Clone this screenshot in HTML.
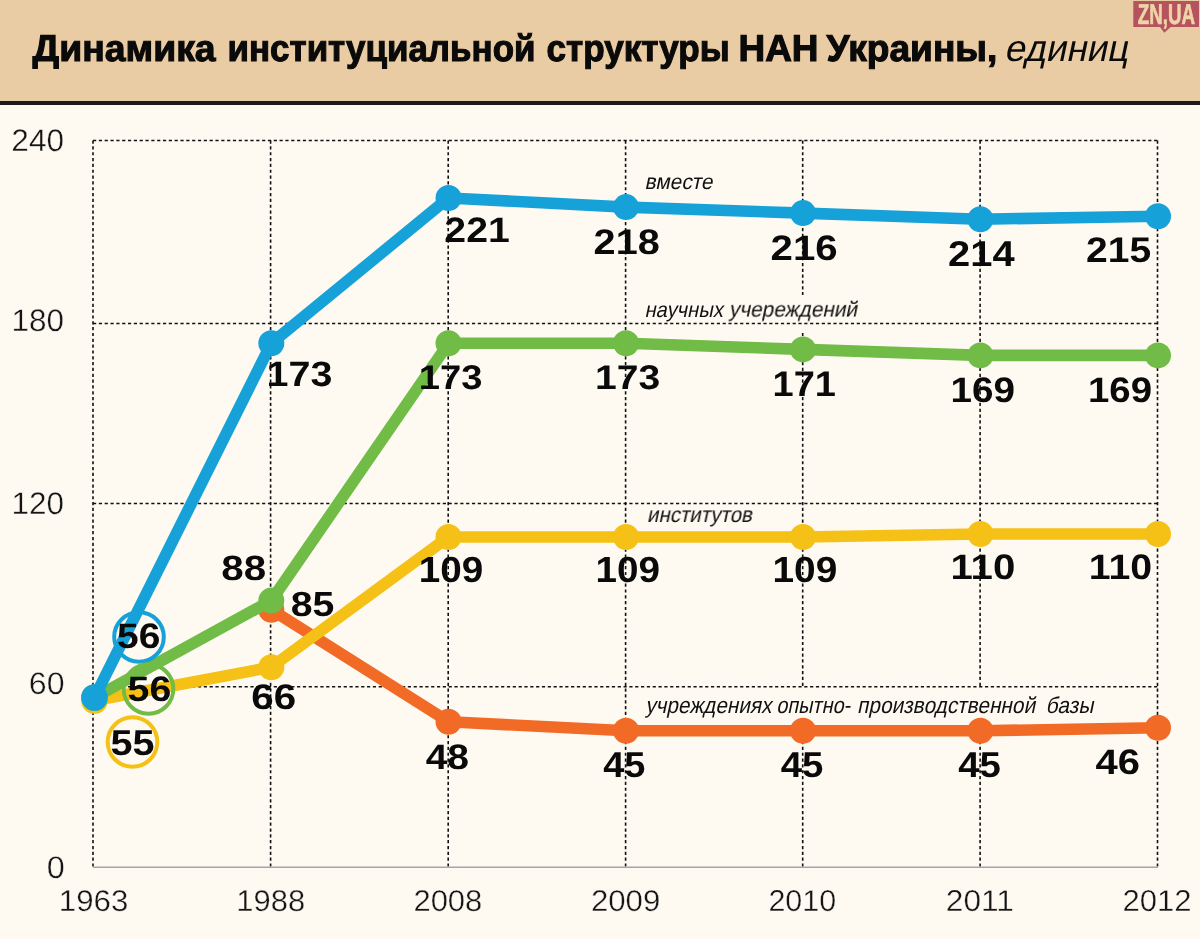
<!DOCTYPE html>
<html><head><meta charset="utf-8"><title>chart</title>
<style>
html,body{margin:0;padding:0;background:#FEFAF2;}
body{width:1200px;height:939px;overflow:hidden;font-family:"Liberation Sans",sans-serif;}
svg{display:block;font-family:"Liberation Sans",sans-serif;text-rendering:geometricPrecision}
.g{stroke:#111;stroke-width:1.6;stroke-dasharray:3.2 2.63;fill:none}
.ax{fill:#151515;stroke:#FEFAF2;stroke-width:0.35}
.v{fill:#0a0a0a}
.l{fill:#111}
.t{fill:#0a0a0a;stroke:#0a0a0a;stroke-width:1.1}
.ti{fill:#0a0a0a}
.lg{fill:#EED6A8;stroke:#EED6A8;stroke-width:0.7}
</style></head><body>
<svg width="1200" height="939" viewBox="0 0 1200 939">
<rect x="0" y="0" width="1200" height="939" fill="#FEFAF2"/>
<rect x="0" y="0" width="1200" height="101" fill="#E9CBA4"/>
<rect x="0" y="101" width="1200" height="4" fill="#1c1c1c"/>
<path d="M1133.3 1H1199V27H1170.7L1164.3 32.7L1160 27H1133.3Z" fill="#B5545F"/>

<line class="g" x1="93" y1="140.5" x2="93" y2="867"/>
<line class="g" x1="270.6" y1="140.5" x2="270.6" y2="867"/>
<line class="g" x1="448.2" y1="140.5" x2="448.2" y2="867"/>
<line class="g" x1="625.6" y1="140.5" x2="625.6" y2="867"/>
<line class="g" x1="802.7" y1="140.5" x2="802.7" y2="867"/>
<line class="g" x1="980.1" y1="140.5" x2="980.1" y2="867"/>
<line class="g" x1="1157.5" y1="140.5" x2="1157.5" y2="867"/>
<rect x="640" y="295" width="225" height="36" fill="#FEFAF2"/>
<rect x="640" y="688" width="462" height="40" fill="#FEFAF2"/>
<line class="g" x1="93" y1="140.5" x2="1158" y2="140.5"/>
<line class="g" x1="93" y1="323.5" x2="1158" y2="323.5"/>
<line class="g" x1="93" y1="503.5" x2="1158" y2="503.5"/>
<line class="g" x1="93" y1="686.8" x2="1158" y2="686.8"/>
<line x1="93" y1="867.3" x2="1158" y2="867.3" stroke="#a5a5a5" stroke-width="1.6"/>
<polyline points="271.3,609.7 448.5,721.7 626.0,730.8 803.0,730.8 980.4,730.8 1158.0,727.8" fill="none" stroke="#F16B27" stroke-width="11.6" stroke-linejoin="round" stroke-linecap="round"/>
<circle cx="271.3" cy="609.7" r="13.0" fill="#F16B27"/>
<circle cx="448.5" cy="721.7" r="13.0" fill="#F16B27"/>
<circle cx="626.0" cy="730.8" r="13.0" fill="#F16B27"/>
<circle cx="803.0" cy="730.8" r="13.0" fill="#F16B27"/>
<circle cx="980.4" cy="730.8" r="13.0" fill="#F16B27"/>
<circle cx="1158.0" cy="727.8" r="13.0" fill="#F16B27"/>
<polyline points="94.5,700.5 271.3,667.2 448.5,537.0 626.0,537.0 803.0,537.0 980.4,534.0 1158.0,534.0" fill="none" stroke="#F5C116" stroke-width="11.6" stroke-linejoin="round" stroke-linecap="round"/>
<circle cx="94.5" cy="700.5" r="13.3" fill="#F5C116"/>
<circle cx="271.3" cy="667.2" r="13.0" fill="#F5C116"/>
<circle cx="448.5" cy="537.0" r="13.0" fill="#F5C116"/>
<circle cx="626.0" cy="537.0" r="13.0" fill="#F5C116"/>
<circle cx="803.0" cy="537.0" r="13.0" fill="#F5C116"/>
<circle cx="980.4" cy="534.0" r="13.0" fill="#F5C116"/>
<circle cx="1158.0" cy="534.0" r="13.0" fill="#F5C116"/>
<polyline points="94.5,697.5 271.3,600.6 448.5,343.3 626.0,343.3 803.0,349.4 980.4,355.4 1158.0,355.4" fill="none" stroke="#70BC46" stroke-width="11.6" stroke-linejoin="round" stroke-linecap="round"/>
<circle cx="94.5" cy="697.5" r="13.3" fill="#70BC46"/>
<circle cx="271.3" cy="600.6" r="13.0" fill="#70BC46"/>
<circle cx="448.5" cy="343.3" r="13.0" fill="#70BC46"/>
<circle cx="626.0" cy="343.3" r="13.0" fill="#70BC46"/>
<circle cx="803.0" cy="349.4" r="13.0" fill="#70BC46"/>
<circle cx="980.4" cy="355.4" r="13.0" fill="#70BC46"/>
<circle cx="1158.0" cy="355.4" r="13.0" fill="#70BC46"/>
<polyline points="94.5,697.5 271.3,343.3 448.5,198.0 626.0,207.1 803.0,213.1 980.4,219.2 1158.0,216.2" fill="none" stroke="#16A2D9" stroke-width="11.6" stroke-linejoin="round" stroke-linecap="round"/>
<circle cx="94.5" cy="697.5" r="13.3" fill="#16A2D9"/>
<circle cx="271.3" cy="343.3" r="13.0" fill="#16A2D9"/>
<circle cx="448.5" cy="198.0" r="13.0" fill="#16A2D9"/>
<circle cx="626.0" cy="207.1" r="13.0" fill="#16A2D9"/>
<circle cx="803.0" cy="213.1" r="13.0" fill="#16A2D9"/>
<circle cx="980.4" cy="219.2" r="13.0" fill="#16A2D9"/>
<circle cx="1158.0" cy="216.2" r="13.0" fill="#16A2D9"/>
<circle cx="139" cy="637" r="24.8" fill="none" stroke="#16A2D9" stroke-width="4"/>
<circle cx="148.5" cy="689" r="24.8" fill="none" stroke="#70BC46" stroke-width="4"/>
<circle cx="132.5" cy="742" r="24.8" fill="none" stroke="#F5C116" stroke-width="4"/>
<g opacity="0.999">
<text class="v" font-size="35" font-weight="bold" transform="matrix(1.1133 0 0.0000 1.0114 117.11 648.25)">56</text>
<text class="v" font-size="35" font-weight="bold" transform="matrix(1.1240 0 0.0000 1.0113 127.60 700.75)">56</text>
<text class="v" font-size="35" font-weight="bold" transform="matrix(1.1333 0 0.0000 1.0251 110.54 755.25)">55</text>
<text class="v" font-size="35" font-weight="bold" transform="matrix(1.1282 0 0.0000 1.0083 266.50 385.55)">173</text>
<text class="v" font-size="35" font-weight="bold" transform="matrix(1.1187 0 0.0000 1.0088 444.35 242.00)">221</text>
<text class="v" font-size="35" font-weight="bold" transform="matrix(1.1331 0 0.0000 1.0153 593.59 254.25)">218</text>
<text class="v" font-size="35" font-weight="bold" transform="matrix(1.1491 0 0.0000 1.0109 770.56 259.75)">216</text>
<text class="v" font-size="35" font-weight="bold" transform="matrix(1.1401 0 0.0000 1.0242 948.08 266.25)">214</text>
<text class="v" font-size="35" font-weight="bold" transform="matrix(1.1143 0 0.0000 1.0132 1086.08 262.25)">215</text>
<text class="v" font-size="35" font-weight="bold" transform="matrix(1.1521 0 0.0000 0.9994 221.22 579.65)">88</text>
<text class="v" font-size="35" font-weight="bold" transform="matrix(1.0913 0 0.0000 0.9796 418.80 388.97)">173</text>
<text class="v" font-size="35" font-weight="bold" transform="matrix(1.1171 0 0.0000 0.9785 595.00 388.97)">173</text>
<text class="v" font-size="35" font-weight="bold" transform="matrix(1.0859 0 0.0000 1.0153 772.56 395.75)">171</text>
<text class="v" font-size="35" font-weight="bold" transform="matrix(1.1049 0 0.0000 1.0117 950.52 401.75)">169</text>
<text class="v" font-size="35" font-weight="bold" transform="matrix(1.0961 0 0.0000 1.0109 1088.03 401.75)">169</text>
<text class="v" font-size="35" font-weight="bold" transform="matrix(1.1531 0 0.0000 1.0137 251.18 709.35)">66</text>
<text class="v" font-size="35" font-weight="bold" transform="matrix(1.1049 0 0.0000 1.0374 418.78 582.25)">109</text>
<text class="v" font-size="35" font-weight="bold" transform="matrix(1.1049 0 0.0000 1.0374 595.53 582.25)">109</text>
<text class="v" font-size="35" font-weight="bold" transform="matrix(1.1098 0 0.0000 1.0374 772.51 582.25)">109</text>
<text class="v" font-size="35" font-weight="bold" transform="matrix(1.1484 0 0.0000 1.0109 950.42 578.50)">110</text>
<text class="v" font-size="35" font-weight="bold" transform="matrix(1.1224 0 0.0000 1.0111 1088.75 578.50)">110</text>
<text class="v" font-size="35" font-weight="bold" transform="matrix(1.1218 0 0.0000 0.9926 290.67 616.05)">85</text>
<text class="v" font-size="35" font-weight="bold" transform="matrix(1.1161 0 0.0000 1.0130 425.64 768.50)">48</text>
<text class="v" font-size="35" font-weight="bold" transform="matrix(1.0846 0 0.0000 1.0251 603.14 777.25)">45</text>
<text class="v" font-size="35" font-weight="bold" transform="matrix(1.0980 0 0.0000 1.0251 780.65 777.25)">45</text>
<text class="v" font-size="35" font-weight="bold" transform="matrix(1.0980 0 0.0000 1.0251 958.15 777.25)">45</text>
<text class="v" font-size="35" font-weight="bold" transform="matrix(1.1422 0 0.0000 1.0114 1095.62 774.00)">46</text>
<text class="ax" font-size="30" transform="matrix(1.0538 0 0.0000 1.0431 11.37 150.75)">240</text>
<text class="ax" font-size="30" transform="matrix(1.0491 0 0.0000 1.0351 11.56 331.25)">180</text>
<text class="ax" font-size="30" transform="matrix(1.0494 0 0.0000 1.0439 11.56 514.25)">120</text>
<text class="ax" font-size="30" transform="matrix(1.0717 0 0.0000 1.0362 28.84 694.25)">60</text>
<text class="ax" font-size="30" transform="matrix(1.0814 0 0.0000 1.0357 46.67 877.83)">0</text>
<text class="ax" font-size="30" transform="matrix(1.0409 0 0.0000 0.9998 58.83 911.00)">1963</text>
<text class="ax" font-size="30" transform="matrix(1.0299 0 0.0000 0.9998 236.34 911.00)">1988</text>
<text class="ax" font-size="30" transform="matrix(1.0325 0 0.0000 0.9998 413.41 911.00)">2008</text>
<text class="ax" font-size="30" transform="matrix(1.0399 0 0.0000 0.9998 590.89 911.00)">2009</text>
<text class="ax" font-size="30" transform="matrix(1.0154 0 0.0000 1.0059 768.42 911.06)">2010</text>
<text class="ax" font-size="30" transform="matrix(1.0547 0 0.0000 1.0067 945.87 911.07)">2011</text>
<text class="ax" font-size="30" transform="matrix(1.0351 0 0.0000 1.0076 1122.42 911.07)">2012</text>
<text class="t" font-size="37.3" font-weight="bold" transform="matrix(1.0017 0 0.0000 1.0000 32.62 61.00)">Динамика</text>
<text class="t" font-size="37.3" font-weight="bold" transform="matrix(0.9365 0 0.0000 1.0000 227.53 61.00)">институциальной</text>
<text class="t" font-size="37.3" font-weight="bold" transform="matrix(0.9400 0 0.0000 1.0000 546.56 61.00)">структуры</text>
<text class="t" font-size="37.3" font-weight="bold" transform="matrix(0.9898 0 0.0000 1.0000 738.49 61.00)">НАН</text>
<text class="t" font-size="37.3" font-weight="bold" transform="matrix(0.9953 0 0.0000 1.0000 826.52 61.00)">Украины,</text>
<text class="ti" font-size="37.3" transform="matrix(0.9863 0 -0.2100 1.0000 1004.02 61.00)">единиц</text>
<text class="l" font-size="21.6" transform="matrix(0.9647 0 -0.2100 1.0000 644.41 189.40)">вместе</text>
<text class="l" font-size="21.6" transform="matrix(0.9314 0 -0.2100 1.0000 644.47 317.00)">научных</text>
<text class="l" font-size="21.6" transform="matrix(0.9647 0 -0.2100 1.0000 728.65 317.00)">учереждений</text>
<text class="l" font-size="21.6" transform="matrix(0.9469 0 -0.2100 1.0000 646.83 522.40)">институтов</text>
<text class="l" font-size="22.7" transform="matrix(0.9143 0 -0.2100 1.0000 645.15 712.70)">учреждениях</text>
<text class="l" font-size="22.7" transform="matrix(0.8775 0 -0.2100 1.0000 776.21 712.70)">опытно-</text>
<text class="l" font-size="22.7" transform="matrix(0.9157 0 -0.2100 1.0000 857.12 712.70)">производственной</text>
<text class="l" font-size="22.7" transform="matrix(0.9259 0 -0.2100 1.0000 1045.60 712.70)">базы</text>
<text class="lg" font-size="28.7" font-weight="bold" transform="matrix(0.6545 0 0.0000 1.0000 1137.71 23.70)">ZN,UA</text>
</g>
</svg></body></html>
